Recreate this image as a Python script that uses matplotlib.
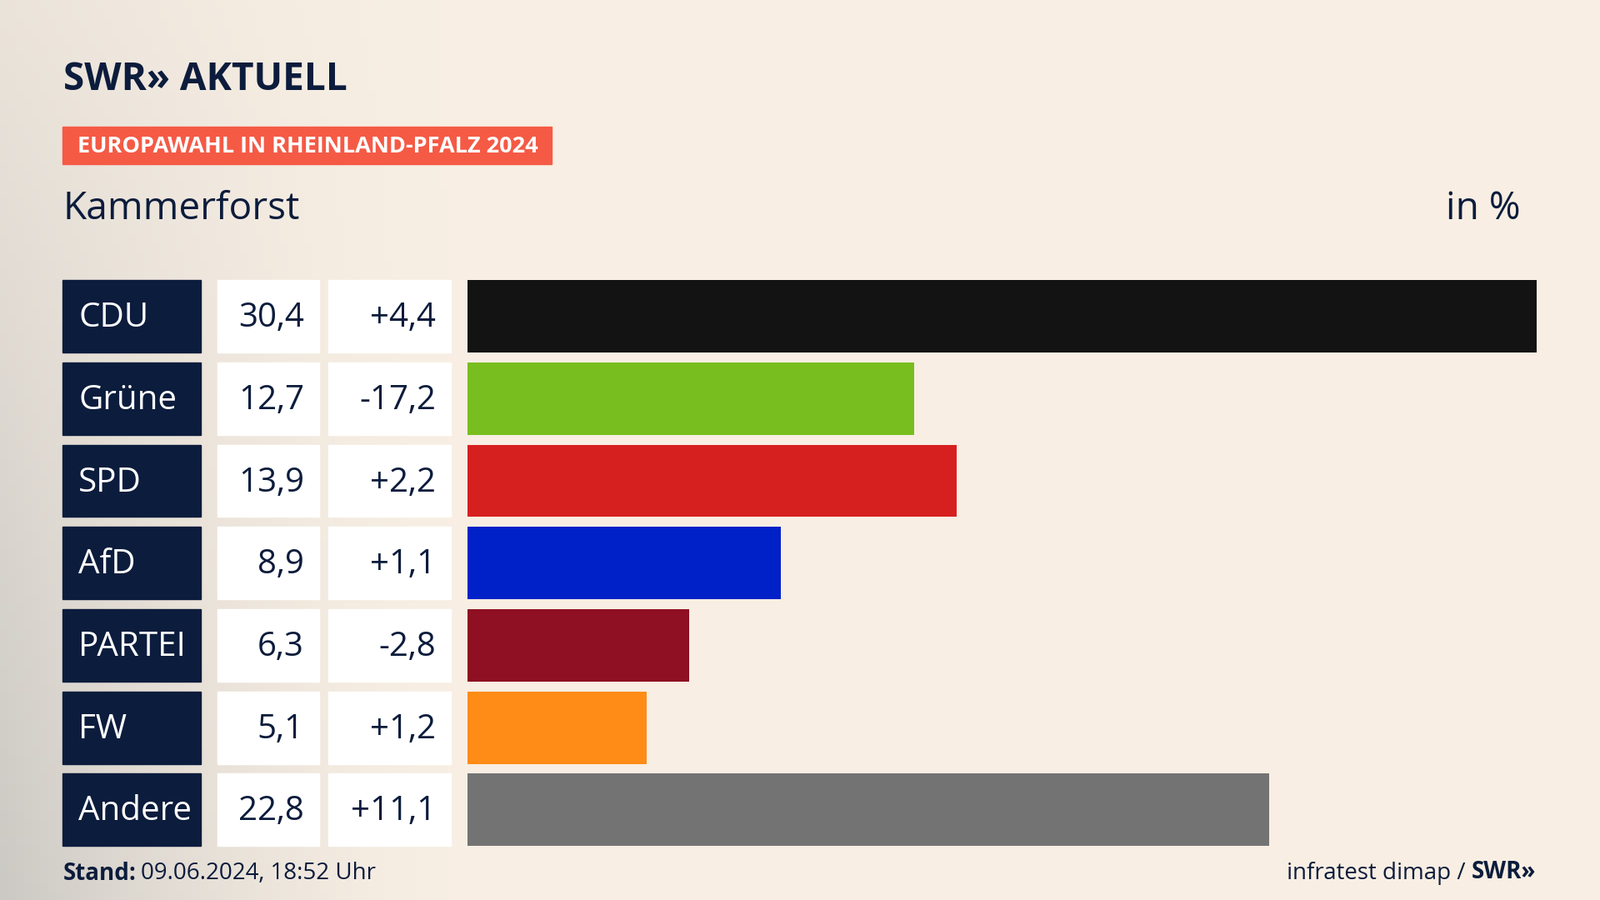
import matplotlib
matplotlib.use('Agg')
import matplotlib.pyplot as plt
import numpy as np

parties = ['CDU', 'Grüne', 'SPD', 'AfD', 'PARTEI', 'FW', 'Andere']
shares = [30.4, 12.7, 13.9, 8.9, 6.3, 5.1, 22.8]
changes = ['+4,4', '-17,2', '+2,2', '+1,1', '-2,8', '+1,2', '+11,1']
colors = ['#131313', '#78be1e', '#d61f1f', '#0021c8', '#8e1022', '#ff8c17', '#737373']

W, H = 1568, 882
NAVY = '#0c1c3c'
plt.rcParams['font.family'] = 'Open Sans'

fig = plt.figure(figsize=(19.2, 10.8), dpi=100)
ax = fig.add_axes([0, 0, 1, 1])
ax.set_xlim(0, W); ax.set_ylim(H, 0); ax.axis('off')

# background: cream with greyish left edge
xs = np.linspace(0, 1, 200)
ys = np.linspace(0, 1, 100)
X, Y = np.meshgrid(xs, ys)
shade = np.clip(1 - X * 3.5, 0, 1) ** 1.5 * (0.3 + 0.7 * Y)
base = np.array([0.973, 0.937, 0.894])
grey = np.array([0.80, 0.79, 0.77])
img = base * (1 - shade[..., None]) + grey * shade[..., None]
ax.imshow(img, extent=[0, W, H, 0], aspect='auto', zorder=0)

ax.text(62, 78, 'SWR» AKTUELL', fontsize=33, fontweight='bold', color=NAVY, va='center')
ax.add_patch(plt.Rectangle((61, 124), 480, 37, color='#f55a45', zorder=1))
ax.text(76, 144, 'EUROPAWAHL IN RHEINLAND-PFALZ 2024', fontsize=19.5, fontweight='bold',
        color='white', va='center', zorder=2)
ax.text(62, 205, 'Kammerforst', fontsize=33, color=NAVY, va='center')
ax.text(1490, 205, 'in %', fontsize=33, color=NAVY, va='center', ha='right')

row_y = 310 + 80.6 * np.arange(len(parties))
h = 71
scale = (1506 - 458) / max(shares)
fs = 29
for i, (p, s, c, col) in enumerate(zip(parties, shares, changes, colors)):
    y = row_y[i] + 2
    ax.add_patch(plt.Rectangle((61, row_y[i] - h / 2), 136, h, color=NAVY, zorder=1))
    ax.add_patch(plt.Rectangle((213, row_y[i] - h / 2), 100, h, color='white', zorder=1))
    ax.add_patch(plt.Rectangle((322, row_y[i] - h / 2), 120, h, color='white', zorder=1))
    ax.text(77, y, p, fontsize=fs, color='white', va='center', zorder=2)
    ax.text(298, y, f'{s:.1f}'.replace('.', ','), fontsize=fs, color=NAVY,
            va='center', ha='right', zorder=2)
    ax.text(427, y, c, fontsize=fs, color=NAVY, va='center', ha='right', zorder=2)
ax.barh(row_y, np.array(shares) * scale, left=458, height=h, color=colors, zorder=1)

ax.text(62, 856, 'Stand:', fontsize=20, fontweight='bold', color=NAVY, va='center')
ax.text(138, 856, '09.06.2024, 18:52 Uhr', fontsize=20, color=NAVY, va='center')
ax.text(1505, 855, 'SWR»', fontsize=20, fontweight='bold', color=NAVY, va='center', ha='right')
ax.text(1436, 856, 'infratest dimap /', fontsize=20, color=NAVY, va='center', ha='right')

fig.savefig('out.png', dpi=100)
